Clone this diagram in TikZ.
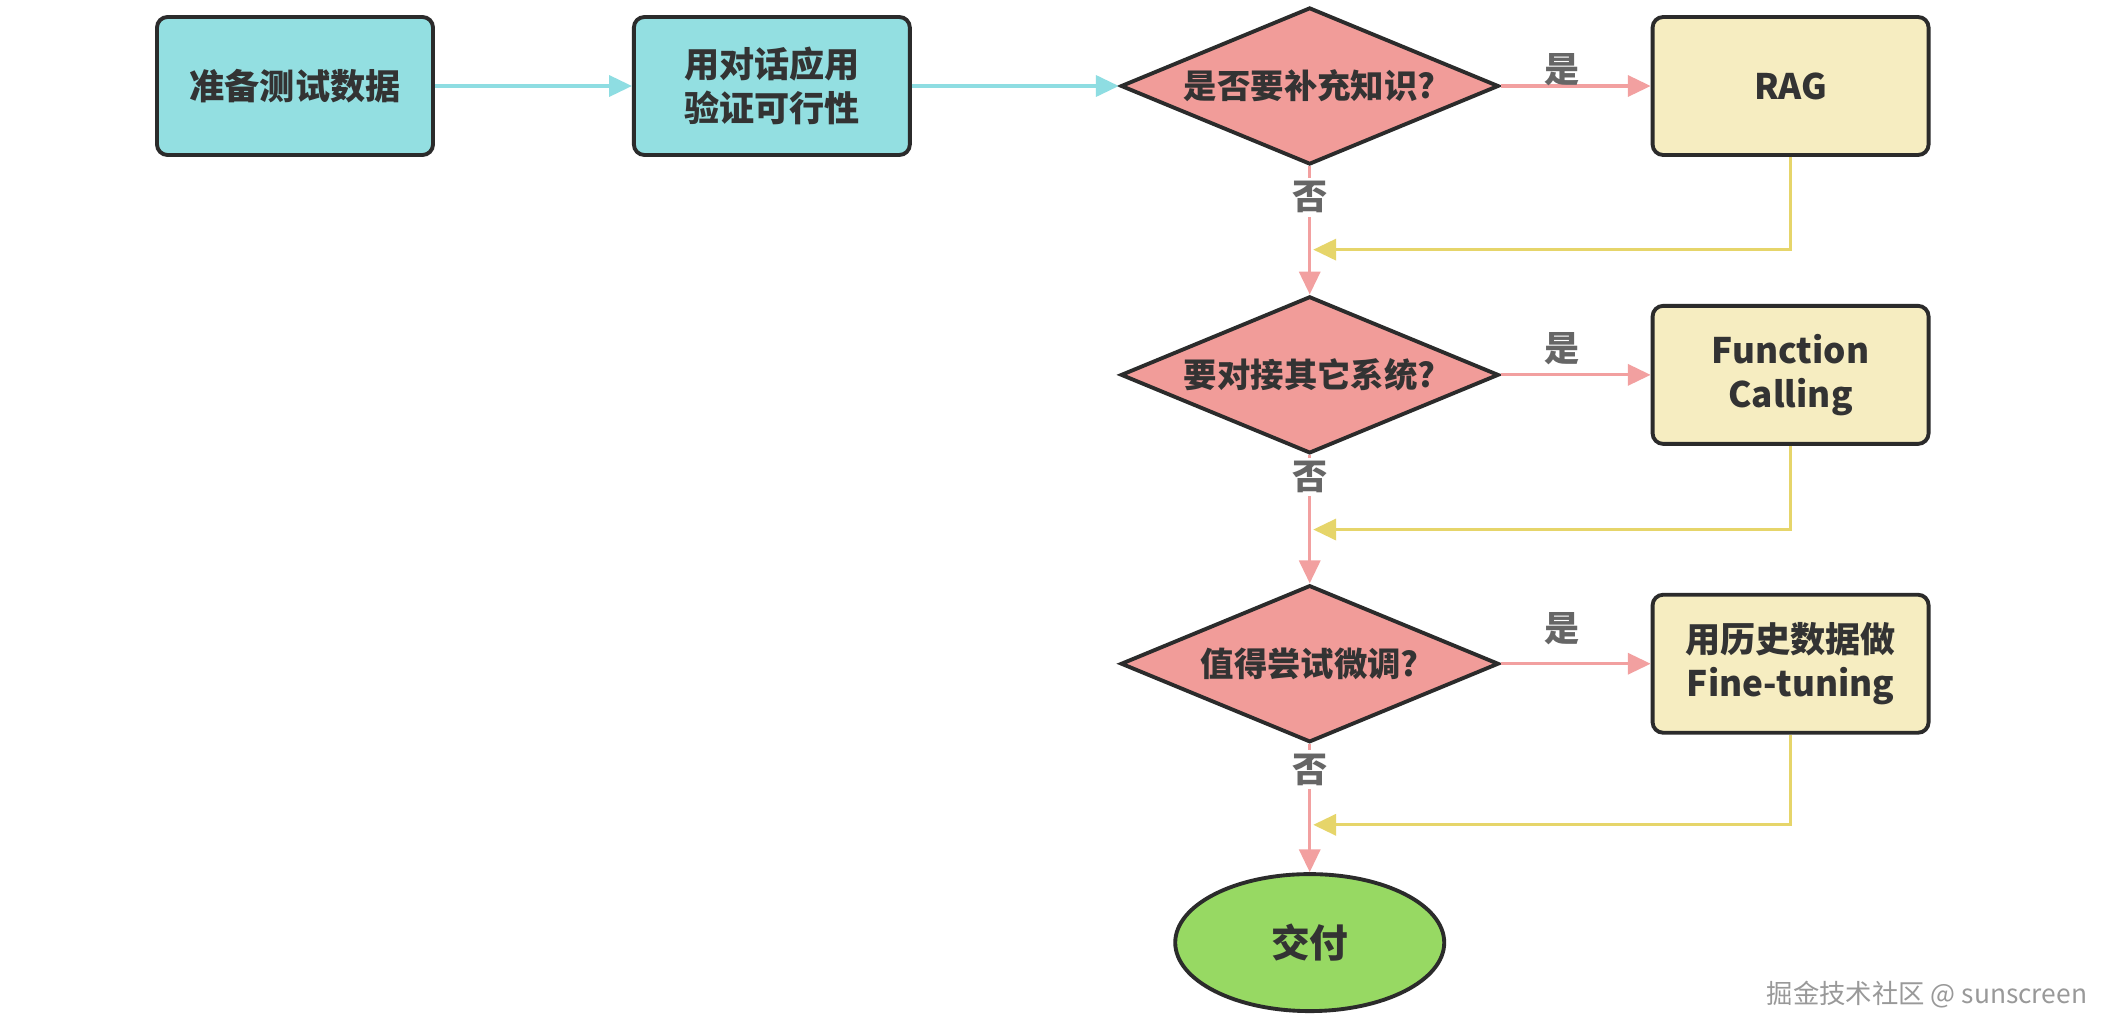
\documentclass[tikz,border=0pt]{standalone}
\usepackage{fontspec}
\setmainfont{Noto Sans CJK SC}
\usetikzlibrary{positioning, shapes.geometric, arrows.meta, calc}

\definecolor{boxcyan}{HTML}{93DFE1}
\definecolor{linecyan}{HTML}{8EDDE2}
\definecolor{diapink}{HTML}{F19C99}
\definecolor{linepink}{HTML}{F2A0A0}
\definecolor{boxyellow}{HTML}{F6EDC1}
\definecolor{lineyellow}{HTML}{E6D56A}
\definecolor{endgreen}{HTML}{97D963}
\definecolor{edgedark}{HTML}{2B2B2B}
\definecolor{textdark}{HTML}{333333}
\definecolor{lblgray}{HTML}{666666}

\begin{document}
\begin{tikzpicture}[
    node distance=1.28cm,
    box/.style={
        draw=edgedark,
        line width=1.1pt,
        rectangle,
        rounded corners=3pt,
        minimum width=2.76cm,
        minimum height=1.38cm,
        align=center,
        text=textdark,
        font=\fontsize{10}{12.5}\selectfont\bfseries
    },
    prepbox/.style={
        box,
        fill=boxcyan
    },
    methodbox/.style={
        box,
        fill=boxyellow
    },
    decision/.style={
        draw=edgedark,
        line width=1.1pt,
        diamond,
        aspect=2.4,
        minimum width=3.78cm,
        minimum height=1.57cm,
        inner sep=0pt,
        fill=diapink,
        text=textdark,
        font=\fontsize{9.5}{11}\selectfont\bfseries
    },
    finish/.style={
        draw=edgedark,
        line width=1.1pt,
        ellipse,
        minimum width=2.69cm,
        minimum height=1.37cm,
        fill=endgreen,
        text=textdark,
        font=\fontsize{11}{13}\selectfont\bfseries
    },
    lbl/.style={
        text=lblgray,
        inner sep=1pt,
        font=\fontsize{10}{10}\selectfont\bfseries
    },
    arrow/.style={-{Triangle[length=6.5pt, width=6pt]}, line width=0.9pt},
    cyanarrow/.style={arrow, linecyan},
    pinkarrow/.style={arrow, linepink},
    backarrow/.style={arrow, lineyellow}
]

% page
\fill[white] (0,0) rectangle (21.09,-10.36);
\useasboundingbox (0,0) rectangle (21.09,-10.36);

% Preparation - top row
\node[prepbox] (prep) at (2.95,-0.86) {准备测试数据};
\node[prepbox, right=1.97cm of prep] (chat) {用对话应用\\验证可行性};

% Decisions - stacked vertically
\node[decision, right=2.07cm of chat] (ask1) {是否要补充知识?};
\node[decision, below=of ask1] (ask2) {要对接其它系统?};
\node[decision, below=of ask2] (ask3) {值得尝试微调?};
\node[finish, below=of ask3] (done) {交付};

% Methods - right column
\node[methodbox, right=1.5cm of ask1] (rag) {RAG};
\node[methodbox, right=1.5cm of ask2] (call) {Function\\Calling};
\node[methodbox, right=1.5cm of ask3] (tune) {用历史数据做\\Fine-tuning};

% Main flow arrows
\draw[cyanarrow] (prep.east) -- (chat.west);
\draw[cyanarrow] (chat.east) -- (ask1.west);

\draw[pinkarrow] (ask1.south) -- node[lbl, pos=0.24, fill=white] (no1) {否} (ask2.north);
\draw[pinkarrow] (ask2.south) -- node[lbl, pos=0.17, fill=white] (no2) {否} (ask3.north);
\draw[pinkarrow] (ask3.south) -- node[lbl, pos=0.2, fill=white] (no3) {否} (done.north);

\draw[pinkarrow] (ask1.east) -- node[lbl, above=-1.5pt, pos=0.41] (yes1) {是} (rag.west);
\draw[pinkarrow] (ask2.east) -- node[lbl, above=1.5pt, pos=0.41] (yes2) {是} (call.west);
\draw[pinkarrow] (ask3.east) -- node[lbl, above=4pt, pos=0.41] (yes3) {是} (tune.west);

% Back into the main line
\coordinate (join1) at ($(ask1.south)!0.65!(ask2.north)$);
\coordinate (join2) at ($(ask2.south)!0.58!(ask3.north)$);
\coordinate (join3) at ($(ask3.south)!0.63!(done.north)$);
\draw[backarrow] (rag.south) |- ([xshift=1pt]join1);
\draw[backarrow] (call.south) |- ([xshift=1pt]join2);
\draw[backarrow] (tune.south) |- ([xshift=1pt]join3);

% Watermark
\node[text=black!40, font=\fontsize{7.5}{9}\selectfont] (mark) at (19.27,-9.95) {掘金技术社区 @ sunscreen};

\end{tikzpicture}
\end{document}
